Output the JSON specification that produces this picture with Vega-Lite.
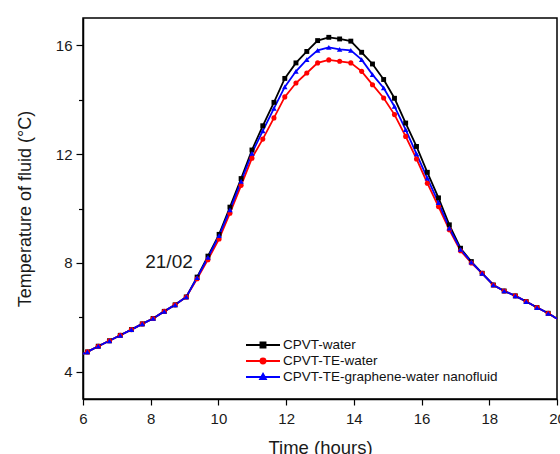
{
  "$schema": "https://vega.github.io/schema/vega-lite/v6.json",
  "width": 474,
  "height": 381,
  "autosize": {"type": "none"},
  "padding": {"left": 83, "top": 18, "right": 3, "bottom": 55},
  "background": "white",
  "config": {
    "font": "Liberation Sans",
    "view": {"stroke": "black", "strokeWidth": 1.5},
    "axis": {"grid": false, "domainColor": "black", "domainWidth": 1.5, "tickColor": "black", "tickWidth": 1.2,
      "labelFont": "Liberation Sans", "labelFontSize": 15, "labelColor": "#1a1a1a",
      "titleFont": "Liberation Sans", "titleFontWeight": "normal", "titleColor": "#1a1a1a"}
  },
  "datasets": {
    "curves": [
      {"time": 6.0, "CPVT-water": 4.66, "CPVT-TE-water": 4.66, "CPVT-TE-graphene-water nanofluid": 4.66},
      {"time": 6.13, "CPVT-water": 4.73, "CPVT-TE-water": 4.73, "CPVT-TE-graphene-water nanofluid": 4.73},
      {"time": 6.45, "CPVT-water": 4.94, "CPVT-TE-water": 4.94, "CPVT-TE-graphene-water nanofluid": 4.94},
      {"time": 6.78, "CPVT-water": 5.14, "CPVT-TE-water": 5.14, "CPVT-TE-graphene-water nanofluid": 5.14},
      {"time": 7.10, "CPVT-water": 5.34, "CPVT-TE-water": 5.34, "CPVT-TE-graphene-water nanofluid": 5.34},
      {"time": 7.43, "CPVT-water": 5.55, "CPVT-TE-water": 5.55, "CPVT-TE-graphene-water nanofluid": 5.55},
      {"time": 7.75, "CPVT-water": 5.76, "CPVT-TE-water": 5.76, "CPVT-TE-graphene-water nanofluid": 5.76},
      {"time": 8.07, "CPVT-water": 5.96, "CPVT-TE-water": 5.96, "CPVT-TE-graphene-water nanofluid": 5.96},
      {"time": 8.40, "CPVT-water": 6.22, "CPVT-TE-water": 6.22, "CPVT-TE-graphene-water nanofluid": 6.22},
      {"time": 8.72, "CPVT-water": 6.46, "CPVT-TE-water": 6.46, "CPVT-TE-graphene-water nanofluid": 6.46},
      {"time": 9.05, "CPVT-water": 6.75, "CPVT-TE-water": 6.75, "CPVT-TE-graphene-water nanofluid": 6.75},
      {"time": 9.37, "CPVT-water": 7.48, "CPVT-TE-water": 7.42, "CPVT-TE-graphene-water nanofluid": 7.46},
      {"time": 9.69, "CPVT-water": 8.25, "CPVT-TE-water": 8.12, "CPVT-TE-graphene-water nanofluid": 8.2},
      {"time": 10.02, "CPVT-water": 9.05, "CPVT-TE-water": 8.88, "CPVT-TE-graphene-water nanofluid": 9.0},
      {"time": 10.34, "CPVT-water": 10.05, "CPVT-TE-water": 9.83, "CPVT-TE-graphene-water nanofluid": 9.95},
      {"time": 10.67, "CPVT-water": 11.1, "CPVT-TE-water": 10.85, "CPVT-TE-graphene-water nanofluid": 11.0},
      {"time": 10.99, "CPVT-water": 12.15, "CPVT-TE-water": 11.85, "CPVT-TE-graphene-water nanofluid": 12.03},
      {"time": 11.31, "CPVT-water": 13.04, "CPVT-TE-water": 12.55, "CPVT-TE-graphene-water nanofluid": 12.85},
      {"time": 11.64, "CPVT-water": 13.9, "CPVT-TE-water": 13.33, "CPVT-TE-graphene-water nanofluid": 13.68},
      {"time": 11.96, "CPVT-water": 14.78, "CPVT-TE-water": 14.1, "CPVT-TE-graphene-water nanofluid": 14.47},
      {"time": 12.29, "CPVT-water": 15.35, "CPVT-TE-water": 14.61, "CPVT-TE-graphene-water nanofluid": 15.04},
      {"time": 12.61, "CPVT-water": 15.77, "CPVT-TE-water": 14.98, "CPVT-TE-graphene-water nanofluid": 15.47},
      {"time": 12.93, "CPVT-water": 16.17, "CPVT-TE-water": 15.35, "CPVT-TE-graphene-water nanofluid": 15.81},
      {"time": 13.26, "CPVT-water": 16.29, "CPVT-TE-water": 15.46, "CPVT-TE-graphene-water nanofluid": 15.92},
      {"time": 13.58, "CPVT-water": 16.23, "CPVT-TE-water": 15.41, "CPVT-TE-graphene-water nanofluid": 15.85},
      {"time": 13.91, "CPVT-water": 16.15, "CPVT-TE-water": 15.35, "CPVT-TE-graphene-water nanofluid": 15.81},
      {"time": 14.23, "CPVT-water": 15.74, "CPVT-TE-water": 15.04, "CPVT-TE-graphene-water nanofluid": 15.47},
      {"time": 14.55, "CPVT-water": 15.31, "CPVT-TE-water": 14.55, "CPVT-TE-graphene-water nanofluid": 14.92},
      {"time": 14.88, "CPVT-water": 14.74, "CPVT-TE-water": 14.06, "CPVT-TE-graphene-water nanofluid": 14.43},
      {"time": 15.20, "CPVT-water": 14.05, "CPVT-TE-water": 13.45, "CPVT-TE-graphene-water nanofluid": 13.75},
      {"time": 15.53, "CPVT-water": 13.14, "CPVT-TE-water": 12.65, "CPVT-TE-graphene-water nanofluid": 12.9},
      {"time": 15.85, "CPVT-water": 12.28, "CPVT-TE-water": 11.82, "CPVT-TE-graphene-water nanofluid": 12.01},
      {"time": 16.17, "CPVT-water": 11.33, "CPVT-TE-water": 10.93, "CPVT-TE-graphene-water nanofluid": 11.12},
      {"time": 16.50, "CPVT-water": 10.39, "CPVT-TE-water": 10.07, "CPVT-TE-graphene-water nanofluid": 10.22},
      {"time": 16.82, "CPVT-water": 9.40, "CPVT-TE-water": 9.22, "CPVT-TE-graphene-water nanofluid": 9.28},
      {"time": 17.15, "CPVT-water": 8.54, "CPVT-TE-water": 8.45, "CPVT-TE-graphene-water nanofluid": 8.5},
      {"time": 17.47, "CPVT-water": 8.05, "CPVT-TE-water": 8.0, "CPVT-TE-graphene-water nanofluid": 8.03},
      {"time": 17.79, "CPVT-water": 7.62, "CPVT-TE-water": 7.62, "CPVT-TE-graphene-water nanofluid": 7.62},
      {"time": 18.12, "CPVT-water": 7.19, "CPVT-TE-water": 7.19, "CPVT-TE-graphene-water nanofluid": 7.19},
      {"time": 18.44, "CPVT-water": 6.97, "CPVT-TE-water": 6.97, "CPVT-TE-graphene-water nanofluid": 6.97},
      {"time": 18.77, "CPVT-water": 6.79, "CPVT-TE-water": 6.79, "CPVT-TE-graphene-water nanofluid": 6.79},
      {"time": 19.09, "CPVT-water": 6.58, "CPVT-TE-water": 6.58, "CPVT-TE-graphene-water nanofluid": 6.58},
      {"time": 19.41, "CPVT-water": 6.36, "CPVT-TE-water": 6.36, "CPVT-TE-graphene-water nanofluid": 6.36},
      {"time": 19.74, "CPVT-water": 6.15, "CPVT-TE-water": 6.15, "CPVT-TE-graphene-water nanofluid": 6.15},
      {"time": 20.0, "CPVT-water": 5.95, "CPVT-TE-water": 5.95, "CPVT-TE-graphene-water nanofluid": 5.95}
    ],
    "note": [{"time": 8.54, "temp": 8.04, "label": "21/02"}]
  },
  "layer": [
    {
      "data": {"name": "curves"},
      "transform": [{"fold": ["CPVT-water", "CPVT-TE-water", "CPVT-TE-graphene-water nanofluid"], "as": ["series", "temp"]}],
      "encoding": {
        "x": {"field": "time", "type": "quantitative",
          "scale": {"domain": [6, 20], "nice": false, "zero": false},
          "axis": {"values": [6,7,8,9,10,11,12,13,14,15,16,17,18,19,20],
            "labelExpr": "datum.value % 2 === 0 ? datum.label : ''",
            "tickSize": {"condition": {"test": "datum.value % 2 === 0", "value": 6}, "value": 3.5},
            "labelPadding": 6, "labelFlush": false, "labelOverlap": false,
            "title": "Time (hours)", "titleFontSize": 18.5, "titlePadding": 12}},
        "y": {"field": "temp", "type": "quantitative",
          "scale": {"domain": [3, 17], "nice": false, "zero": false},
          "axis": {"values": [4,6,8,10,12,14,16],
            "labelExpr": "datum.value % 4 === 0 ? datum.label : ''",
            "tickSize": {"condition": {"test": "datum.value % 4 === 0", "value": 7}, "value": 4.5},
            "labelPadding": 4, "labelFlush": false, "labelOverlap": false,
            "title": "Temperature of fluid (°C)", "titleFontSize": 18, "titlePadding": 21}},
        "color": {"field": "series", "type": "nominal",
          "scale": {"domain": ["CPVT-water", "CPVT-TE-water", "CPVT-TE-graphene-water nanofluid"], "range": ["#000000", "#ff0000", "#0000ff"]},
          "legend": {"orient": "none", "legendX": 162, "legendY": 319, "title": null, "padding": 0,
            "clipHeight": 16, "rowPadding": 0, "symbolSize": 1156, "labelOffset": 2, "labelLimit": 400,
            "labelFont": "Liberation Sans", "labelFontSize": 13.5, "labelColor": "#111111",
            "symbolType": "stroke", "symbolStrokeWidth": 1.8,
            "encode": {"symbols": {"update": {
              "shape": {"signal": "datum.value === 'CPVT-water' ? 'M-1,0H1M-0.15,-0.15H0.15V0.15H-0.15Z' : datum.value === 'CPVT-TE-water' ? 'M-1,0H1M0.15,0A0.15,0.15,0,1,1,-0.15,0A0.15,0.15,0,1,1,0.15,0Z' : 'M-1,0H1M0,-0.19L0.17,0.12L-0.17,0.12Z'"},
              "fill": {"scale": "color", "field": "value"},
              "stroke": {"scale": "color", "field": "value"},
              "opacity": {"value": 1}
            }}}}}
      },
      "layer": [
        {"mark": {"type": "line", "strokeWidth": 1.8}},
        {"transform": [{"filter": "datum.series === 'CPVT-water' && datum.time > 6.05 && datum.time < 19.95"}],
         "mark": {"type": "point", "filled": true, "shape": "square", "size": 24, "opacity": 1}},
        {"transform": [{"filter": "datum.series === 'CPVT-TE-water' && datum.time > 6.05 && datum.time < 19.95"}],
         "mark": {"type": "point", "filled": true, "shape": "circle", "size": 26, "opacity": 1}},
        {"transform": [{"filter": "datum.series === 'CPVT-TE-graphene-water nanofluid' && datum.time > 6.05 && datum.time < 19.95"}],
         "mark": {"type": "point", "filled": true, "shape": "triangle-up", "size": 30, "opacity": 1}}
      ]
    },
    {
      "data": {"name": "note"},
      "mark": {"type": "text", "font": "Liberation Sans", "fontSize": 19, "color": "#1a1a1a", "align": "center", "baseline": "middle"},
      "encoding": {
        "x": {"field": "time", "type": "quantitative"},
        "y": {"field": "temp", "type": "quantitative"},
        "text": {"field": "label"}
      }
    }
  ]
}
